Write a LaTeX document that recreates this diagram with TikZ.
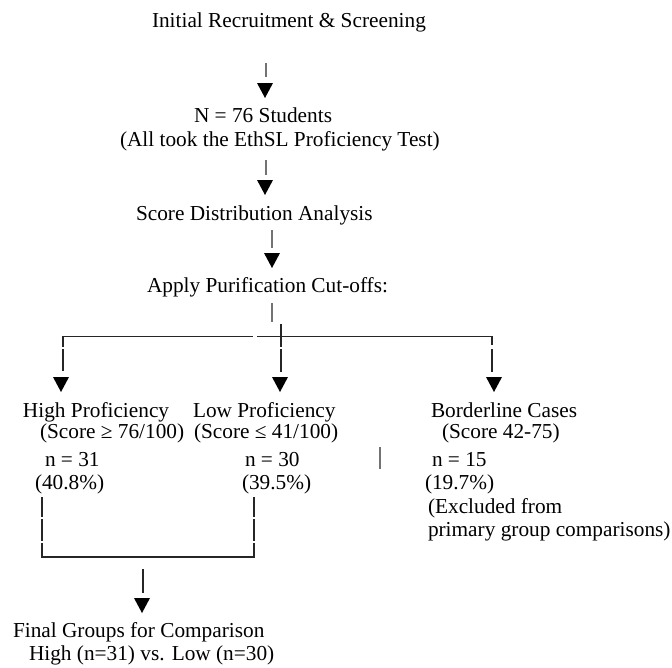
\documentclass[tikz,border=0pt]{standalone}
\usepackage{fontspec}
\setmainfont{Liberation Serif}
\begin{document}
\begin{tikzpicture}[x=1pt,y=-1pt,
  txt/.style={anchor=base west,inner sep=0pt,outer sep=0pt,font=\fontsize{21.3}{25}\selectfont},
  stem/.style={draw=black!55,line width=1.2pt},
  conn/.style={draw=black!85,line width=1.9pt},
  tip/.style={fill=black}]
\useasboundingbox (0,0) rectangle (672,667);
\newcommand\tipat[2]{\fill[tip] ({#1-8},{#2}) -- ({#1+8},{#2}) -- ({#1},{#2+15}) -- cycle;}
% texts
\node[txt] (init) at (152,27) {Initial Recruitment \& Screening};
\node[txt] (n76) at (194,122) {N = 76 Students};
\node[txt] (all) at (120,146) {(All took the EthSL Proficiency Test)};
\node[txt] (sda) at (136,220) {Score Distribution Analysis};
\node[txt] (apc) at (147,292) {Apply Purification Cut-offs:};
\node[txt] (hp1) at (23,417) {High Proficiency};
\node[txt] (hp2) at (40,438) {(Score ≥ 76/100)};
\node[txt] (hp3) at (45,466) {n = 31};
\node[txt] (hp4) at (35,489) {(40.8\%)};
\node[txt] (lp1) at (193,417) {Low Proficiency};
\node[txt] (lp2) at (194,438) {(Score ≤ 41/100)};
\node[txt] (lp3) at (245,466) {n = 30};
\node[txt] (lp4) at (242,489) {(39.5\%)};
\node[txt] (bc1) at (431,417) {Borderline Cases};
\node[txt] (bc2) at (442,438) {(Score 42-75)};
\node[txt] (bc3) at (432,466) {n = 15};
\node[txt] (bc4) at (425,489) {(19.7\%)};
\node[txt] (bc5) at (428,513) {(Excluded from};
\node[txt] (bc6) at (428,536) {primary group comparisons)};
\node[txt] (fg1) at (13,637) {Final Groups for Comparison};
\node[txt] (fg2) at (29,660) {High (n=31) vs. Low (n=30)};
% top arrows
\draw[stem] (266,63) -- (266,77); \tipat{265}{83}
\draw[stem] (266,160) -- (266,175); \tipat{265}{180}
\draw[stem] (272,230) -- (272,248); \tipat{272}{253}
\draw[stem] (272,303) -- (272,322);
% branching
\draw[conn] (63,347) -- (63,336.5) -- (253,336.5);
\draw[conn] (257,336.5) -- (492,336.5) -- (492,345);
\draw[conn] (281,324) -- (281,347);
\draw[conn] (63,349) -- (63,371); \tipat{61}{377}
\draw[conn] (281,349) -- (281,372); \tipat{280}{377}
\draw[conn] (492,349) -- (492,372); \tipat{494}{377}
\draw[stem] (380,447) -- (380,469);
% merge
\draw[conn] (42,497) -- (42,517);
\draw[conn] (42,519) -- (42,541);
\draw[conn] (254,497) -- (254,517);
\draw[conn] (254,519) -- (254,541);
\draw[conn] (42,543) -- (42,557) -- (254,557) -- (254,543);
\draw[conn] (143,569) -- (143,593); \tipat{142}{598}
\end{tikzpicture}
\end{document}
